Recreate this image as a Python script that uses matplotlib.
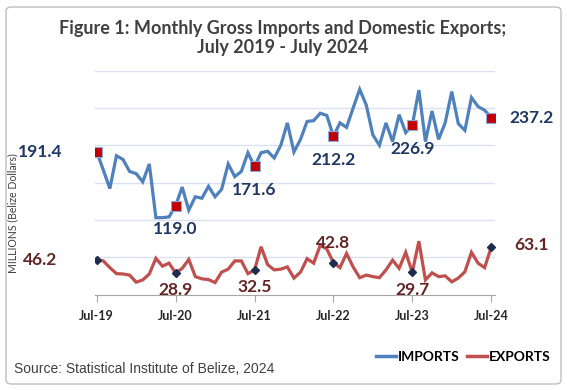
import matplotlib.pyplot as plt
from matplotlib.patches import FancyBboxPatch
from matplotlib.lines import Line2D

# monthly values, Jul-2019 .. Jul-2024 (61 months), BZ$ millions
imports = [191.4, 167, 142, 186, 181, 165, 162, 151, 175, 103, 103, 104,
           119.0, 144, 113, 131, 129, 145, 131, 141, 175, 158, 165, 190,
           171.6, 190, 192, 183, 200, 230, 191, 208, 232, 233, 243, 240,
           212.2, 230, 224, 250, 275, 254, 214, 200, 230, 205, 241, 217,
           226.9, 274, 205, 246, 208, 230, 272, 229, 220, 264, 252, 247,
           237.2]
exports = [46.2, 45, 36, 28, 27.5, 26, 16.5, 19.5, 27.5, 48.5, 38, 42,
           28.9, 35, 47, 24, 21, 20, 16, 30, 34, 45, 45, 28,
           32.5, 64, 40, 33, 34, 37, 22, 30, 48, 42, 66, 61,
           42.8, 36, 55, 37, 22.5, 26, 24, 22.5, 33, 46, 35, 56.5,
           29.7, 71.5, 19.5, 29, 24, 25, 17, 22, 30.5, 56.5, 42, 36,
           63.1]
tick_labels = ['Jul-19', 'Jul-20', 'Jul-21', 'Jul-22', 'Jul-23', 'Jul-24']
july_idx = [0, 12, 24, 36, 48, 60]

BLUE = '#4F81BD'
RED = '#C0504D'
NAVY = '#1F3864'
MAROON = '#632523'

fig = plt.figure(figsize=(5.67, 3.9), dpi=100)

# outer frame
frame = FancyBboxPatch((6 / 567, 6 / 390), 555 / 567, 377 / 390,
                       boxstyle='round,pad=0,rounding_size=0.01',
                       transform=fig.transFigure, facecolor='none',
                       edgecolor='#BFBFBF', linewidth=1.0, zorder=-1)
fig.patches.append(frame)

ax = fig.add_axes([95 / 567, (390 - 294.5) / 390, 400 / 567, 223.8 / 390])
ax.set_facecolor('none')

x = list(range(len(imports)))
ax.plot(x, imports, color=BLUE, lw=2.3, solid_joinstyle='miter', zorder=3)
ax.plot(x, exports, color=RED, lw=2.3, solid_joinstyle='miter', zorder=3)

ax.plot(july_idx, [imports[i] for i in july_idx], ls='none', marker='s',
        ms=7, mfc='#C00000', mec='#8EA9DB', mew=0.8, zorder=4)
ax.plot(july_idx, [exports[i] for i in july_idx], ls='none', marker='D',
        ms=4.5, mfc='#1F2D4D', mec='#1F2D4D', zorder=4)

ax.set_xlim(-0.26, 60.58)
ax.set_ylim(0, 300)
ax.set_yticks([50, 100, 150, 200, 250, 300])
ax.yaxis.grid(True, color='#D9E1F2', lw=1.0)
ax.set_axisbelow(True)
ax.tick_params(axis='y', left=False, labelleft=False)
for s in ['left', 'right', 'top']:
    ax.spines[s].set_visible(False)
ax.spines['bottom'].set_color('#A6A6A6')
ax.set_xticks(july_idx)
ax.set_xticklabels(tick_labels, fontsize=9, fontweight='bold',
                   family='Lato', color='#262626')
ax.tick_params(axis='x', length=5, color='#A6A6A6', pad=6)

# data labels (offsets in points)
lab = dict(fontsize=12.5, fontweight='bold', family='Lato', clip_on=False,
           ha='center', va='center')
imp_off = [(-41, 0), (0, -17), (0, -17), (0, -17), (0, -17), (29, 0)]
exp_off = [(-41, 0), (0, -12), (0, -12), (0, 14), (0, -13), (29, 2)]
for i, (dx, dy) in zip(july_idx, imp_off):
    ax.annotate(f'{imports[i]:.1f}', (i, imports[i]), xytext=(dx, dy),
                textcoords='offset points', color=NAVY, **lab)
for i, (dx, dy) in zip(july_idx, exp_off):
    ax.annotate(f'{exports[i]:.1f}', (i, exports[i]), xytext=(dx, dy),
                textcoords='offset points', color=MAROON, **lab)

fig.text(283 / 567, 1 - 38 / 390,
         'Figure 1: Monthly Gross Imports and Domestic Exports;\nJuly 2019 - July 2024',
         ha='center', va='center', fontsize=13, fontweight='bold',
         family='Lato', color='#404040', linespacing=1.2)
fig.text(13 / 567, 1 - 213 / 390, 'MILLIONS (Belize Dollars)', rotation=90,
         ha='center', va='center', fontsize=7.6, family='Lato', color='#404040')
fig.text(14 / 567, 1 - 369 / 390, 'Source: Statistical Institute of Belize, 2024',
         ha='left', va='center', fontsize=10, family='Liberation Sans',
         color='#404040')

handles = [Line2D([], [], color=BLUE, lw=2.5), Line2D([], [], color=RED, lw=2.5)]
fig.legend(handles, ['IMPORTS', 'EXPORTS'], loc='center right',
           bbox_to_anchor=(563 / 567, 1 - 357 / 390), ncol=2, frameon=False,
           handlelength=1.5, handletextpad=0.1, columnspacing=0.5,
           prop={'family': 'Lato', 'weight': 'bold', 'size': 10})

fig.savefig('out.png', dpi=100)
